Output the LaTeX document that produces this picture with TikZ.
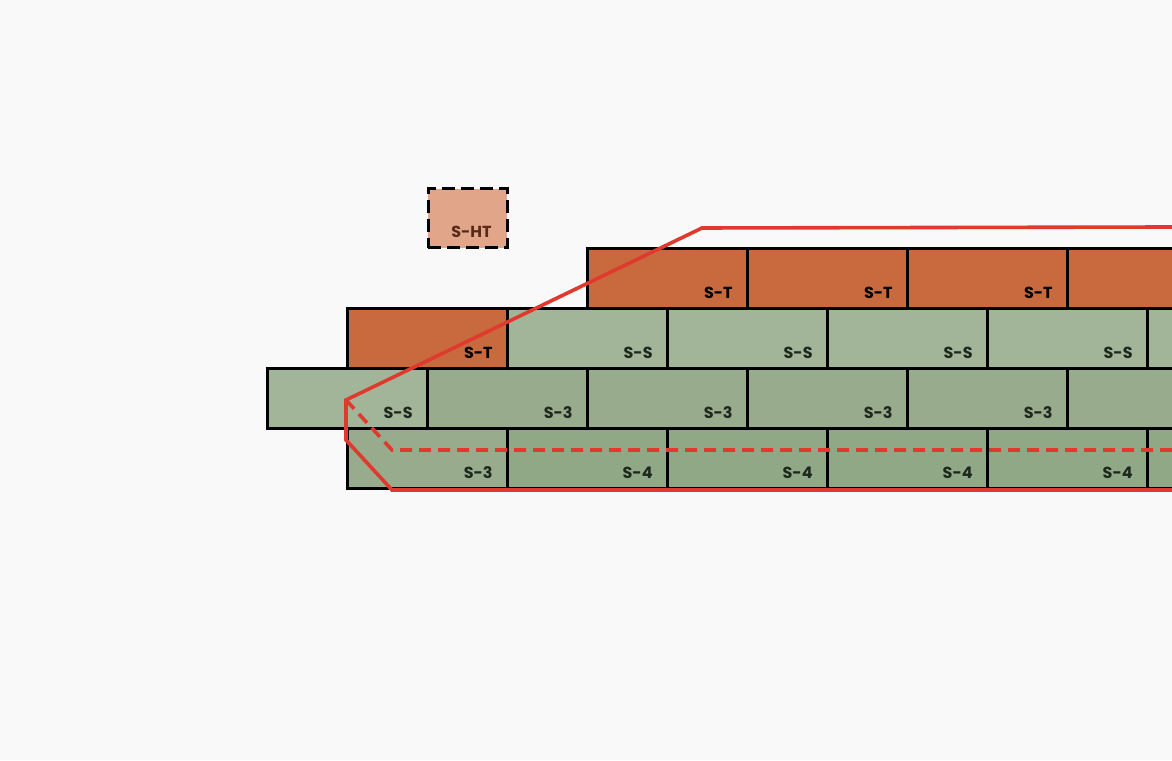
\documentclass[tikz,border=0pt]{standalone}
\usepackage{fontspec}
\setmainfont{Poppins}
\usepackage{tikz}

\definecolor{paper}{HTML}{F9F9F9}
\definecolor{tileorange}{HTML}{C96A3E}
\definecolor{tilepale}{HTML}{E1A68A}
\definecolor{greenS}{HTML}{A2B598}
\definecolor{greenthree}{HTML}{98AC8D}
\definecolor{greenfour}{HTML}{91A886}
\definecolor{cutred}{HTML}{E03A2E}
\definecolor{inkgreen}{HTML}{1D281C}
\definecolor{inkbrown}{HTML}{5A2A18}

\tikzset{
  brick/.style={draw=black,line width=2.8pt,rectangle,minimum width=160pt,minimum height=60pt,inner sep=0pt,anchor=south west},
  tag/.style={anchor=base east,inner sep=0pt,font=\fontsize{16}{19}\selectfont\bfseries,text=inkgreen},
  cutline/.style={draw=cutred,line width=3.6pt,line join=miter}
}

\begin{document}
\begin{tikzpicture}[x=1pt,y=1pt]
\fill[paper] (0,0) rectangle (1172,760);
\useasboundingbox (0,0) rectangle (1172,760);
\clip (0,0) rectangle (1172,760);
% half tile on top
\node[brick,dash pattern=on 13pt off 6pt,fill=tilepale,minimum width=79pt,minimum height=59pt] (ht) at (427,511) {};
\node[tag,text=inkbrown] at ([shift={(-17,11)}]ht.south east) {S-HT};
% top course
\foreach \i in {0,...,2} {
  \node[brick,fill=tileorange] (t\i) at (586+160*\i,450) {};
  \node[tag,text=black] at ([shift={(-16,11)}]t\i.south east) {S-T};
}
\node[brick,fill=tileorange] (t3) at (1066,450) {};
% second course
\node[brick,fill=tileorange] (tt) at (346,390) {};
\node[tag,text=black] at ([shift={(-16,11)}]tt.south east) {S-T};
\foreach \i in {0,...,3} {
  \node[brick,fill=greenS] (s\i) at (506+160*\i,390) {};
  \node[tag] at ([shift={(-16,11)}]s\i.south east) {S-S};
}
\node[brick,fill=greenS] (s4) at (1146,390) {};
% third course
\node[brick,fill=greenS] (ss) at (266,330) {};
\node[tag] at ([shift={(-16,11)}]ss.south east) {S-S};
\foreach \i in {0,...,3} {
  \node[brick,fill=greenthree] (h\i) at (426+160*\i,330) {};
  \node[tag] at ([shift={(-16,11)}]h\i.south east) {S-3};
}
\node[brick,fill=greenthree] (h4) at (1066,330) {};
% bottom course
\node[brick,fill=greenthree] (hh) at (346,270) {};
\node[tag] at ([shift={(-16,11)}]hh.south east) {S-3};
\foreach \i in {0,...,3} {
  \node[brick,fill=greenfour] (f\i) at (506+160*\i,270) {};
  \node[tag] at ([shift={(-16,11)}]f\i.south east) {S-4};
}
\node[brick,fill=greenfour] (f4) at (1146,270) {};
% red outline
\coordinate (r1) at (1172,533);
\coordinate (r2) at (702,532);
\coordinate (r3) at (346,360);
\coordinate (r4) at (346,320);
\coordinate (r5) at (392,270);
\coordinate (r6) at (1172,270);
\coordinate (d1) at (392,310);
\coordinate (d2) at (1172,310);
\draw[cutline] (r1) -- (r2) -- (r3) -- (r4) -- (r5) -- (r6);
\draw[cutline,dash pattern=on 12pt off 7pt] (r3) -- (d1) -- (d2);
\end{tikzpicture}
\end{document}
